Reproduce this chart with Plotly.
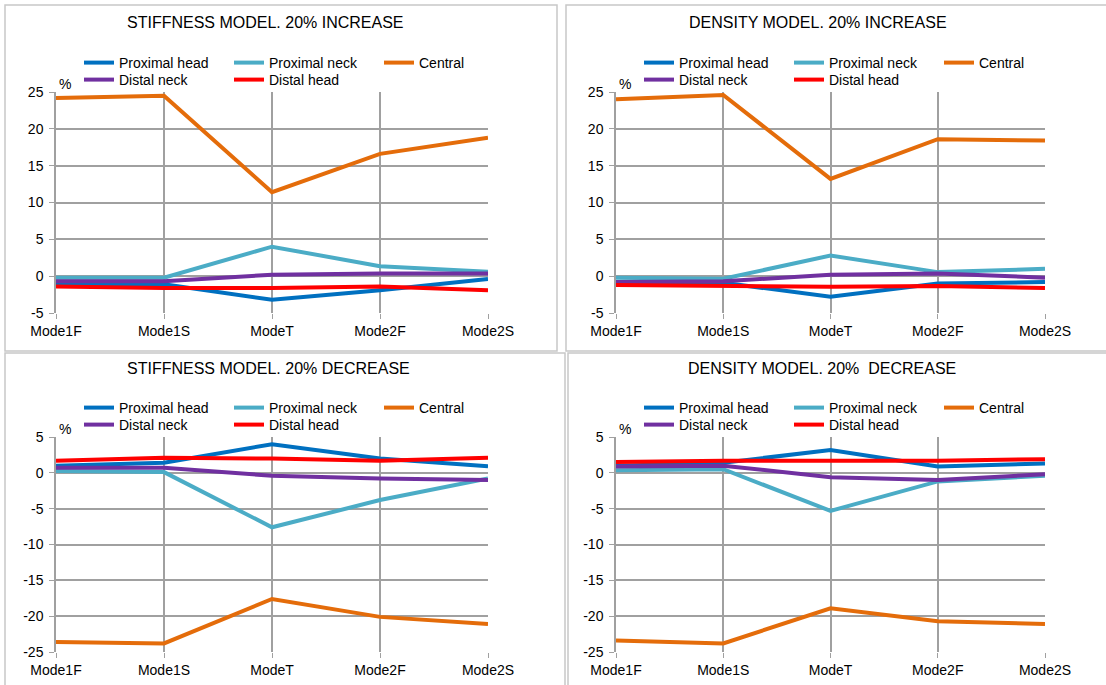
import plotly.graph_objects as go

W, H = 1106, 685

modes = ['Mode1F', 'Mode1S', 'ModeT', 'Mode2F', 'Mode2S']
series = ['Proximal head', 'Proximal neck', 'Central', 'Distal neck', 'Distal head']
colors = ['#0070C0', '#4BACC6', '#E46C0A', '#7030A0', '#FF0000']

# stiffness model, 20% increase
stiff_inc = {
    'Proximal head': [-1.1, -1.1, -3.2, -1.9, -0.4],
    'Proximal neck': [-0.2, -0.2, 4.0, 1.35, 0.6],
    'Central':       [24.2, 24.5, 11.4, 16.6, 18.8],
    'Distal neck':   [-0.7, -0.7, 0.2, 0.35, 0.35],
    'Distal head':   [-1.4, -1.6, -1.6, -1.4, -1.9],
}
# density model, 20% increase
dens_inc = {
    'Proximal head': [-0.9, -0.9, -2.8, -1.0, -0.8],
    'Proximal neck': [-0.2, -0.35, 2.8, 0.55, 1.0],
    'Central':       [24.0, 24.6, 13.2, 18.6, 18.4],
    'Distal neck':   [-0.8, -0.7, 0.2, 0.35, -0.2],
    'Distal head':   [-1.2, -1.35, -1.45, -1.35, -1.6],
}
# stiffness model, 20% decrease
stiff_dec = {
    'Proximal head': [1.0, 1.4, 4.0, 2.0, 0.9],
    'Proximal neck': [0.25, 0.1, -7.6, -3.8, -0.8],
    'Central':       [-23.6, -23.8, -17.6, -20.1, -21.1],
    'Distal neck':   [0.7, 0.7, -0.4, -0.8, -1.0],
    'Distal head':   [1.7, 2.1, 2.0, 1.7, 2.1],
}
# density model, 20% decrease
dens_dec = {
    'Proximal head': [1.0, 1.4, 3.2, 0.9, 1.3],
    'Proximal neck': [0.35, 0.5, -5.3, -1.2, -0.4],
    'Central':       [-23.4, -23.8, -18.9, -20.7, -21.1],
    'Distal neck':   [0.9, 1.0, -0.6, -1.0, -0.2],
    'Distal head':   [1.5, 1.7, 1.7, 1.7, 1.9],
}

titles = ['STIFFNESS MODEL. 20% INCREASE', 'DENSITY MODEL. 20% INCREASE',
          'STIFFNESS MODEL. 20% DECREASE', 'DENSITY MODEL. 20%  DECREASE']
panels = [stiff_inc, dens_inc, stiff_dec, dens_dec]
yticks_up = [-5, 0, 5, 10, 15, 20, 25]
yticks_down = [-25, -20, -15, -10, -5, 0, 5]
yticks = [yticks_up, yticks_up, yticks_down, yticks_down]

# pixel boxes of plot areas: (left, right, top, bottom)
boxes = [(56, 488, 92, 313), (616, 1045, 92, 313),
         (56, 488, 437, 652), (616, 1045, 437, 652)]
title_pos = [(265, 22), (818, 22), (268, 368), (822, 368)]

FONT = 'Liberation Sans, Arial, sans-serif'
GRID = '#A0A0A0'

fig = go.Figure()
layout = dict(width=W, height=H, margin=dict(l=0, r=0, t=0, b=0),
              paper_bgcolor='white', plot_bgcolor='white',
              font=dict(family=FONT, size=14, color='black'),
              annotations=[], shapes=[])

def px(x):
    return x / W

def py(y):
    return 1 - y / H

for i, data in enumerate(panels):
    n = i + 1
    xa = 'x' if n == 1 else f'x{n}'
    ya = 'y' if n == 1 else f'y{n}'
    lg1 = f'legend{2*i+1}' if i > 0 else 'legend'
    lg2 = f'legend{2*i+2}'
    for j, s in enumerate(series):
        fig.add_trace(go.Scatter(
            x=modes, y=data[s], name=s, mode='lines',
            line=dict(color=colors[j], width=4),
            xaxis=xa, yaxis=ya,
            legend=lg1 if j < 3 else lg2,
            hovertemplate='%{x}: %{y}<extra>' + s + '</extra>'))
    l, r, t, b = boxes[i]
    tv = yticks[i]
    layout['xaxis' if n == 1 else f'xaxis{n}'] = dict(
        domain=[px(l), px(r)], anchor=ya, type='category', range=[0, 4],
        showgrid=True, gridcolor=GRID, gridwidth=1.5, showline=False,
        ticks='outside', ticklen=5, tickcolor=GRID, tickfont=dict(size=14),
        automargin=False, fixedrange=True)
    layout['yaxis' if n == 1 else f'yaxis{n}'] = dict(
        domain=[py(b), py(t)], anchor=xa, range=[tv[0], tv[-1]],
        tickvals=tv, ticktext=[str(v) for v in tv],
        showgrid=True, gridcolor=GRID, gridwidth=1.5, zeroline=False,
        showline=True, linecolor=GRID, linewidth=1.5,
        ticks='outside', ticklen=5, tickcolor=GRID, tickfont=dict(size=14),
        ticklabelstandoff=3, automargin=False, fixedrange=True)
    # legends: two rows, three columns
    lx = l + 23
    for lg, row_y in [(lg1, t - 29), (lg2, t - 12)]:
        layout[lg] = dict(
            orientation='h', x=px(lx), xanchor='left', y=py(row_y), yanchor='middle',
            xref='paper', yref='paper', bgcolor='rgba(0,0,0,0)',
            entrywidth=105, font=dict(size=14, family=FONT),
            itemwidth=30, tracegroupgap=0)
    # title
    tx, ty = title_pos[i]
    layout['annotations'].append(dict(
        text=titles[i], x=px(tx), y=py(ty), xref='paper', yref='paper',
        showarrow=False, font=dict(size=16), xanchor='center', yanchor='middle'))
    # percent sign above y axis
    layout['annotations'].append(dict(
        text='%', x=px(l + 9), y=py(t - 8), xref='paper', yref='paper',
        showarrow=False, font=dict(size=14), xanchor='center', yanchor='middle'))

# panel borders
border = dict(color='#C8C8C8', width=1.5)
for x0, y0, x1, y1 in [(5, 5, 557, 351), (566, 5, 1110, 351),
                       (5, 353, 565, 690), (568, 353, 1110, 690)]:
    layout['shapes'].append(dict(type='rect', xref='paper', yref='paper',
                                 x0=px(x0), x1=px(x1), y0=py(y1), y1=py(y0),
                                 line=border, layer='below'))

fig.update_layout(**layout)
# the page body has a default margin; drop it so the figure sits at the corner
fig.write_html('out.html', config={'displayModeBar': False},
               post_script="document.body.style.margin='0';")
